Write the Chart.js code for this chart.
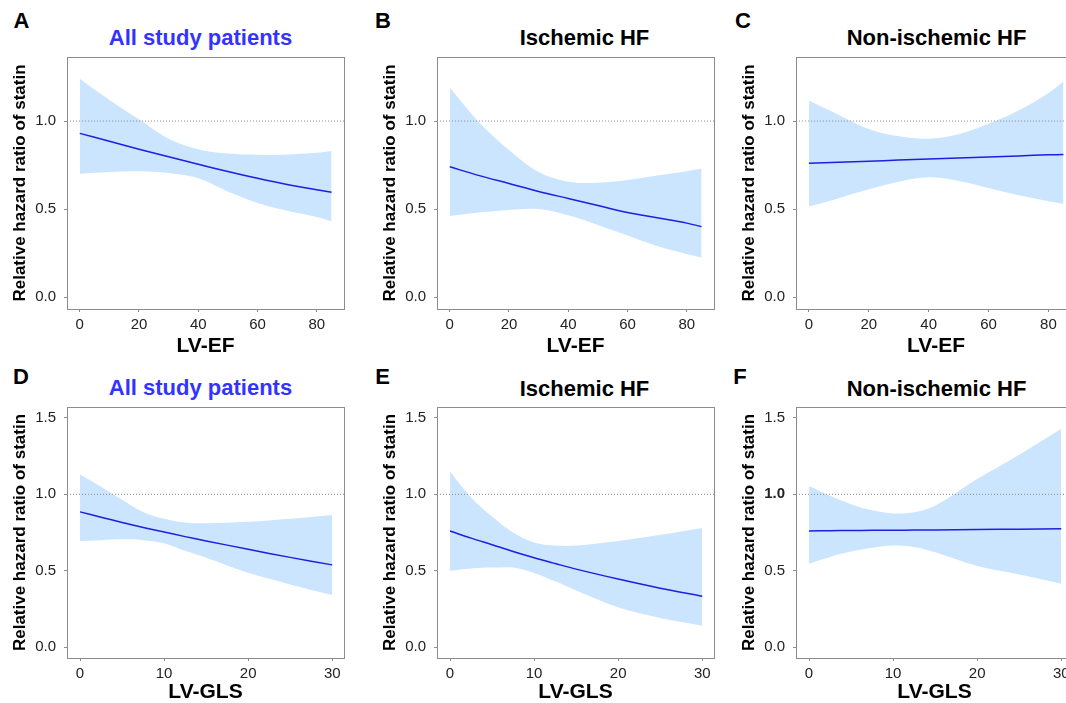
<!DOCTYPE html>
<html>
<head>
<meta charset="utf-8">
<script src="https://cdn.jsdelivr.net/npm/chart.js@4.4.1/dist/chart.umd.min.js"></script>
<style>
  html, body { margin: 0; padding: 0; background: #fff; overflow: hidden; }
  body { width: 1066px; height: 703px; position: relative; font-family: "Liberation Sans", Arial, sans-serif; }
  canvas { position: absolute; }
  .lbl { position: absolute; transform: translate(-50%, -50%); font-weight: bold; line-height: 1; white-space: nowrap; }
  .letter { font-size: 22px; color: #000; }
  .ttl { font-size: 22px; color: #000; }
  .blue { color: #3333ff; }
</style>
</head>
<body>
<div class="lbl letter" style="left:21.5px; top:21px;">A</div>
<div class="lbl letter" style="left:383px; top:21px;">B</div>
<div class="lbl letter" style="left:743px; top:21px;">C</div>
<div class="lbl letter" style="left:21px; top:377px;">D</div>
<div class="lbl letter" style="left:382.5px; top:377px;">E</div>
<div class="lbl letter" style="left:740px; top:377px;">F</div>

<div class="lbl ttl blue" style="left:200.5px; top:38px;">All study patients</div>
<div class="lbl ttl" style="left:584.5px; top:38px;">Ischemic HF</div>
<div class="lbl ttl" style="left:936.5px; top:38px;">Non-ischemic HF</div>
<div class="lbl ttl blue" style="left:200.5px; top:388px;">All study patients</div>
<div class="lbl ttl" style="left:584.5px; top:389px;">Ischemic HF</div>
<div class="lbl ttl" style="left:936.5px; top:389px;">Non-ischemic HF</div>

<canvas id="pA" width="348" height="362" style="left:0px; top:0px;"></canvas>
<canvas id="pB" width="348" height="362" style="left:370px; top:0px;"></canvas>
<canvas id="pC" width="351" height="362" style="left:729px; top:0px;"></canvas>
<canvas id="pD" width="348" height="360" style="left:0px; top:350px;"></canvas>
<canvas id="pE" width="348" height="360" style="left:370px; top:350px;"></canvas>
<canvas id="pF" width="348" height="360" style="left:729px; top:350px;"></canvas>

<script>
// x grids
const efX = [0, 10, 20, 30, 40, 50, 60, 70, 80, 85];
const glsX = [0, 2.5, 5, 7.5, 10, 12.5, 15, 20, 25, 30];
const efTicks = [0, 20, 40, 60, 80];
const glsTicks = [0, 10, 20, 30];
const yTicksTop = [0, 0.5, 1.0];
const yTicksBottom = [0, 0.5, 1.0, 1.5];

// LV-EF, all patients
const allEfFit = [0.93, 0.885, 0.84, 0.797, 0.754, 0.713, 0.675, 0.64, 0.61, 0.595];
const allEfUpper = [1.24, 1.12, 1.01, 0.90, 0.84, 0.815, 0.808, 0.81, 0.82, 0.83];
const allEfLower = [0.70, 0.71, 0.715, 0.705, 0.675, 0.60, 0.535, 0.49, 0.455, 0.43];
// LV-EF, ischemic
const ischEfFit = [0.74, 0.69, 0.645, 0.60, 0.56, 0.52, 0.48, 0.45, 0.42, 0.40];
const ischEfUpper = [1.19, 0.99, 0.835, 0.71, 0.655, 0.65, 0.665, 0.69, 0.715, 0.73];
const ischEfLower = [0.46, 0.48, 0.495, 0.50, 0.465, 0.41, 0.35, 0.29, 0.245, 0.225];
// LV-EF, non-ischemic
const nonEfFit = [0.76, 0.766, 0.772, 0.778, 0.784, 0.79, 0.796, 0.802, 0.808, 0.81];
const nonEfUpper = [1.115, 1.035, 0.955, 0.913, 0.90, 0.925, 0.985, 1.06, 1.16, 1.225];
const nonEfLower = [0.515, 0.562, 0.612, 0.655, 0.68, 0.66, 0.62, 0.578, 0.545, 0.53];

// LV-GLS, all patients
const allGlsFit = [0.885, 0.85, 0.815, 0.783, 0.753, 0.723, 0.695, 0.64, 0.587, 0.538];
const allGlsUpper = [1.13, 1.05, 0.965, 0.885, 0.84, 0.815, 0.81, 0.82, 0.84, 0.865];
const allGlsLower = [0.695, 0.70, 0.705, 0.70, 0.68, 0.63, 0.585, 0.486, 0.41, 0.34];
// LV-GLS, ischemic
const ischGlsFit = [0.76, 0.713, 0.67, 0.626, 0.585, 0.547, 0.51, 0.445, 0.385, 0.333];
const ischGlsUpper = [1.15, 0.98, 0.855, 0.75, 0.685, 0.665, 0.665, 0.695, 0.735, 0.78];
const ischGlsLower = [0.50, 0.515, 0.52, 0.52, 0.485, 0.43, 0.37, 0.26, 0.19, 0.14];
// LV-GLS, non-ischemic
const nonGlsFit = [0.76, 0.762, 0.763, 0.764, 0.765, 0.766, 0.767, 0.77, 0.772, 0.775];
const nonGlsUpper = [1.055, 0.99, 0.935, 0.895, 0.875, 0.882, 0.925, 1.10, 1.26, 1.43];
const nonGlsLower = [0.545, 0.59, 0.625, 0.65, 0.665, 0.655, 0.62, 0.53, 0.475, 0.415];

const FONT = '"Liberation Sans", Arial, sans-serif';
const bandColor = 'rgb(204,229,255)';
const lineColor = 'rgb(30,30,225)';
const yTitle = 'Relative hazard ratio of statin';

const pts = (xs, ys) => xs.map((x, i) => ({ x: x, y: ys[i] }));

// box round the plot area
const boxPlugin = {
  id: 'box',
  afterDraw(chart) {
    const { ctx, chartArea: a } = chart;
    ctx.save();
    ctx.strokeStyle = '#8c8c8c';
    ctx.lineWidth = 1;
    ctx.strokeRect(Math.round(a.left) + 0.5, Math.round(a.top) + 0.5,
      Math.round(a.right - a.left), Math.round(a.bottom - a.top));
    ctx.restore();
  }
};

function panel(id, xs, fit, upper, lower, cfg) {
  new Chart(document.getElementById(id), {
    type: 'line',
    data: {
      datasets: [
        { data: pts(xs, upper), borderColor: 'rgba(0,0,0,0)', borderWidth: 0, pointRadius: 0,
          fill: false, order: 3, tension: 0.35 },
        { data: pts(xs, lower), borderColor: 'rgba(0,0,0,0)', borderWidth: 0, pointRadius: 0,
          fill: '-1', backgroundColor: bandColor, order: 3, tension: 0.35 },
        { data: [{ x: cfg.xRange[0], y: 1 }, { x: cfg.xRange[1], y: 1 }], borderColor: '#8a8a8a',
          borderWidth: 1, borderDash: [1, 2], pointRadius: 0, order: 2 },
        { data: pts(xs, fit), borderColor: lineColor, borderWidth: 1.5, pointRadius: 0,
          order: 1, tension: 0.35 }
      ]
    },
    options: {
      responsive: false,
      animation: false,
      events: [],
      layout: { padding: { top: 57, right: 4, left: 0, bottom: 0 } },
      plugins: { legend: { display: false }, tooltip: { enabled: false } },
      scales: {
        x: {
          type: 'linear', min: cfg.xRange[0], max: cfg.xRange[1],
          afterBuildTicks: s => { s.ticks = cfg.xTicks.map(v => ({ value: v })); },
          afterFit: s => { s.height = cfg.axisH; },
          grid: { drawOnChartArea: false, tickLength: 3, color: '#8c8c8c' },
          border: { display: false },
          ticks: { font: { family: FONT, size: 15 }, color: '#222', padding: 4, maxRotation: 0, autoSkip: false },
          title: { display: true, text: cfg.xTitle, color: '#000',
            font: { family: FONT, size: 21, weight: 'bold' }, padding: { top: 0, bottom: cfg.titlePad } }
        },
        y: {
          min: cfg.yRange[0], max: cfg.yRange[1],
          afterBuildTicks: s => { s.ticks = cfg.yTicks.map(v => ({ value: v })); },
          afterFit: s => { s.width = 67; },
          grid: { drawOnChartArea: false, tickLength: 3, color: '#8c8c8c' },
          border: { display: false },
          ticks: {
            color: '#222', padding: 8, autoSkip: false,
            font: c => ({ family: FONT, size: 15,
              weight: (cfg.boldOne && c.tick && c.tick.value === 1) ? 'bold' : 'normal' }),
            callback: v => v.toFixed(1)
          },
          title: { display: true, text: yTitle, color: '#000',
            font: { family: FONT, size: 17, weight: 'bold' }, padding: { top: 10, bottom: 0 } }
        }
      }
    },
    plugins: [boxPlugin]
  });
}

const efCfg = { xRange: [-4.3, 89.2], xTicks: efTicks, yTicks: yTicksTop, yRange: [-0.068, 1.364],
  xTitle: 'LV-EF', axisH: 53, titlePad: 3 };
const glsCfg = { xRange: [-1.55, 31.4], xTicks: glsTicks, yTicks: yTicksBottom, yRange: [-0.072, 1.572],
  xTitle: 'LV-GLS', axisH: 52, titlePad: 5 };

panel('pA', efX, allEfFit, allEfUpper, allEfLower, efCfg);
panel('pB', efX, ischEfFit, ischEfUpper, ischEfLower, efCfg);
panel('pC', efX, nonEfFit, nonEfUpper, nonEfLower, efCfg);
panel('pD', glsX, allGlsFit, allGlsUpper, allGlsLower, glsCfg);
panel('pE', glsX, ischGlsFit, ischGlsUpper, ischGlsLower, glsCfg);
panel('pF', glsX, nonGlsFit, nonGlsUpper, nonGlsLower, Object.assign({}, glsCfg, { boldOne: true }));
</script>
</body>
</html>
